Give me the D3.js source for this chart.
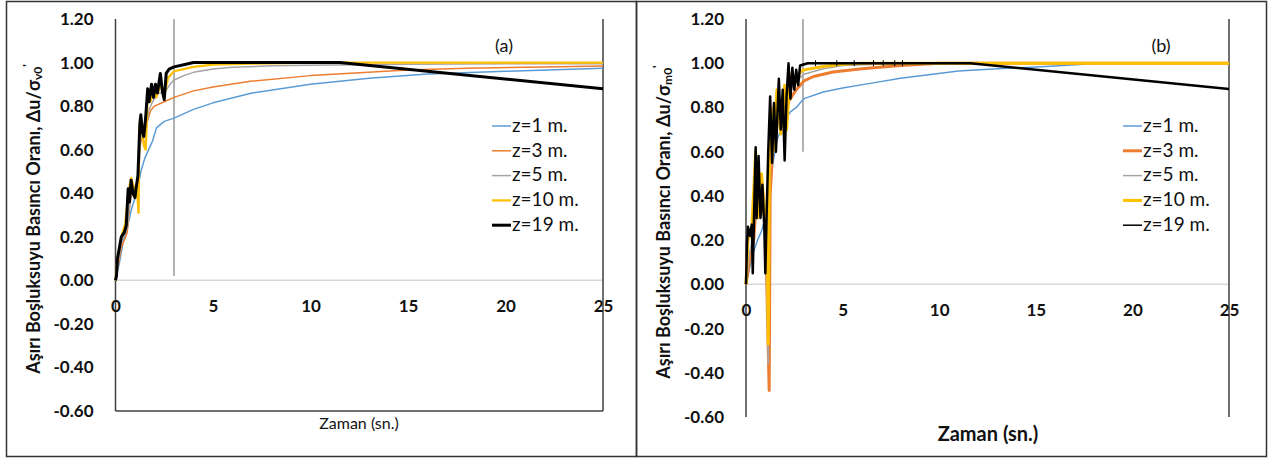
<!DOCTYPE html>
<html>
<head>
<meta charset="utf-8">
<script src="https://cdn.jsdelivr.net/npm/d3@7"></script>
<style>
  body { margin: 0; background: #fff; }
  svg text { font-family: Lato, "Open Sans", sans-serif; fill: #111; }
</style>
</head>
<body>
<svg id="chart" width="1269" height="459"></svg>
<script>
// depths shown in both panels
const depths = ["z=1 m.", "z=3 m.", "z=5 m.", "z=10 m.", "z=19 m."];
const colors = ["#5B9BD5", "#ED7D31", "#A5A5A5", "#FFC000", "#000000"];
const xTicks = [0, 5, 10, 15, 20, 25];
const yTicks = [1.2, 1.0, 0.8, 0.6, 0.4, 0.2, 0.0, -0.2, -0.4, -0.6];

// panel (a) - [time (s), ratio]
const aZ1 = [[0,0],[0.2,0.08],[0.4,0.18],[0.6,0.24],[0.8,0.32],[1.0,0.38],[1.2,0.45],[1.3,0.5],[1.5,0.56],[1.7,0.6],[1.9,0.64],[2.1,0.7],[2.5,0.73],[3,0.745],[4,0.785],[5,0.815],[7,0.86],[10,0.9],[13,0.928],[16,0.948],[20,0.96],[25,0.974]];
const aZ3 = [[0,0],[0.3,0.15],[0.6,0.22],[0.8,0.4],[1.0,0.38],[1.1,0.45],[1.18,0.31],[1.22,0.6],[1.4,0.68],[1.6,0.72],[1.8,0.78],[2.0,0.8],[2.5,0.82],[3,0.84],[4,0.87],[5,0.888],[7,0.915],[10,0.94],[15,0.966],[18,0.974],[22,0.98],[25,0.984]];
const aZ5 = [[0,0],[0.3,0.18],[0.6,0.24],[0.8,0.42],[1.0,0.4],[1.2,0.5],[1.3,0.68],[1.5,0.62],[1.7,0.78],[1.9,0.82],[2.2,0.86],[2.5,0.86],[2.8,0.9],[3,0.92],[3.5,0.94],[4,0.955],[5,0.97],[6,0.978],[8,0.985],[10,0.988],[15,0.992],[20,0.995],[25,0.995]];
const aZ10 = [[0,0],[0.1,0.1],[0.3,0.2],[0.5,0.26],[0.65,0.4],[0.8,0.47],[0.9,0.44],[1.0,0.4],[1.1,0.42],[1.18,0.31],[1.22,0.7],[1.3,0.74],[1.45,0.62],[1.55,0.6],[1.65,0.85],[1.8,0.82],[1.95,0.88],[2.1,0.84],[2.3,0.9],[2.5,0.85],[2.7,0.93],[3.0,0.96],[3.5,0.97],[4,0.98],[5,0.99],[7,0.995],[10,1.0],[25,1.0]];
const aZ19 = [[0,0],[0.05,0.02],[0.1,0.1],[0.2,0.15],[0.3,0.2],[0.45,0.22],[0.55,0.25],[0.65,0.42],[0.72,0.36],[0.8,0.46],[0.9,0.4],[1.0,0.38],[1.05,0.42],[1.15,0.48],[1.25,0.72],[1.3,0.76],[1.38,0.68],[1.45,0.66],[1.55,0.75],[1.65,0.88],[1.72,0.82],[1.85,0.9],[1.95,0.84],[2.05,0.9],[2.15,0.86],[2.3,0.95],[2.4,0.87],[2.5,0.83],[2.6,0.95],[2.75,0.97],[3.0,0.98],[3.5,0.99],[4,1.0],[11.5,1.0],[25,0.88]];

// panel (b)
const bZ1 = [[0,0],[0.2,0.08],[0.4,0.15],[0.6,0.2],[0.8,0.24],[1.0,0.3],[1.2,0.4],[1.4,0.55],[1.6,0.65],[1.8,0.7],[2.0,0.74],[2.3,0.78],[2.6,0.8],[3,0.84],[4,0.87],[5,0.888],[6.5,0.91],[8,0.932],[11,0.965],[13,0.975],[15.5,0.985],[17.5,0.995],[18,1.0],[25,1.0]];
const bZ3 = [[0,0],[0.2,0.12],[0.4,0.2],[0.6,0.45],[0.8,0.35],[1.0,0.3],[1.2,-0.48],[1.25,0.4],[1.4,0.65],[1.6,0.72],[1.8,0.78],[2.0,0.8],[2.3,0.84],[2.6,0.88],[3,0.92],[3.5,0.94],[4.5,0.96],[6,0.975],[8,0.99],[10,1.0],[25,1.0]];
const bZ5 = [[0,0],[0.2,0.15],[0.4,0.22],[0.6,0.5],[0.8,0.4],[1.0,0.3],[1.15,-0.36],[1.2,0.45],[1.4,0.7],[1.6,0.75],[1.8,0.8],[2.0,0.84],[2.3,0.88],[2.6,0.92],[3,0.95],[4,0.975],[5,0.99],[7,0.997],[10,1.0],[25,1.0]];
const bZ10 = [[0,0],[0.1,0.2],[0.3,0.25],[0.5,0.6],[0.6,0.3],[0.8,0.5],[1.0,0.3],[1.1,0.2],[1.15,-0.27],[1.2,0.5],[1.3,0.8],[1.4,0.6],[1.6,0.88],[1.8,0.68],[2.0,0.9],[2.1,0.7],[2.3,0.95],[2.5,0.9],[2.8,0.96],[3.0,0.97],[4,0.985],[5,0.995],[6,1.0],[25,1.0]];
const bZ19 = [[0,0],[0.05,0.18],[0.1,0.26],[0.2,0.22],[0.3,0.27],[0.35,0.05],[0.4,0.25],[0.5,0.62],[0.55,0.3],[0.65,0.58],[0.75,0.3],[0.85,0.45],[0.95,0.25],[1.0,0.05],[1.05,0.25],[1.15,0.6],[1.25,0.85],[1.35,0.55],[1.45,0.82],[1.55,0.6],[1.7,0.93],[1.8,0.7],[1.9,0.88],[2.0,0.56],[2.1,0.85],[2.2,1.0],[2.3,0.84],[2.4,0.98],[2.5,0.88],[2.6,0.97],[2.7,0.9],[2.8,0.99],[3.2,1.0],[11.6,1.0],[25,0.883]];
const bTickTimes = [3.6, 4.7, 5.6, 6.6, 7.1, 7.7, 8.1];

// gray vertical mark near t=3: [time, top, bottom]
const aMark = [3.0, 1.2, 0.02];
const bMark = [2.95, 1.2, 0.6];

const svg = d3.select("#chart");

// outer frames
svg.append("rect").attr("x", 6.5).attr("y", 1.5).attr("width", 630).attr("height", 455)
  .attr("fill", "none").attr("stroke", "#333").attr("stroke-width", 1.5);
svg.append("rect").attr("x", 636.5).attr("y", 1.5).attr("width", 630).attr("height", 455)
  .attr("fill", "none").attr("stroke", "#333").attr("stroke-width", 1.5);

const panels = [
  {
    series: [aZ1, aZ3, aZ5, aZ10, aZ19],
    widths: [1.5, 1.5, 1.5, 2.25, 3],
    legWidths: [1.5, 1.5, 1.5, 2.25, 3],
    left: 115.5, right: 603, top: 19, bottom: 411,
    bottomLine: true, mark: aMark, label: "(a)", labelX: 504,
    sub: "v0", titleX: 35, legX: 492,
    xTitle: { x: 359, y: 429, size: 16, weight: "normal" }
  },
  {
    series: [bZ1, bZ3, bZ5, bZ10, bZ19],
    widths: [1.5, 3, 1.5, 3, 2.5],
    legWidths: [1.5, 3, 1.5, 3, 1.5],
    left: 746, right: 1229, top: 19, bottom: 417,
    bottomLine: false, mark: bMark, label: "(b)", labelX: 1161,
    sub: "m0", titleX: 665, legX: 1123,
    xTitle: { x: 988, y: 441, size: 20, weight: "bold" }
  }
];

panels.forEach((p, pi) => {
  const x = d3.scaleLinear().domain([0, 25]).range([p.left, p.right]);
  const y = d3.scaleLinear().domain([-0.6, 1.2]).range([p.bottom, p.top]);
  const g = svg.append("g");

  // zero line
  g.append("line").attr("x1", x(0)).attr("x2", x(25)).attr("y1", y(0)).attr("y2", y(0))
    .attr("stroke", "#d9d9d9").attr("stroke-width", 1.5);

  // axis frame lines
  g.append("line").attr("x1", x(0)).attr("x2", x(0)).attr("y1", y(1.2)).attr("y2", y(-0.6))
    .attr("stroke", "#404040").attr("stroke-width", 1.5);
  g.append("line").attr("x1", x(25)).attr("x2", x(25)).attr("y1", y(1.2)).attr("y2", y(-0.6))
    .attr("stroke", "#404040").attr("stroke-width", 1.5);
  if (p.bottomLine) {
    g.append("line").attr("x1", x(0)).attr("x2", x(25)).attr("y1", y(-0.6)).attr("y2", y(-0.6))
      .attr("stroke", "#404040").attr("stroke-width", 1.5);
  }

  // y axis labels
  const yAxis = d3.axisLeft(y).tickValues(yTicks).tickSize(0).tickPadding(22)
    .tickFormat(d => d.toFixed(2));
  const ya = g.append("g").attr("transform", `translate(${x(0)},0)`).call(yAxis);
  ya.select(".domain").remove();
  ya.selectAll("text").style("font-size", "17px").style("font-weight", "bold")
    .style("font-family", "Lato, sans-serif").attr("fill", "#111");

  // x axis labels, sitting under the zero line
  const xAxis = d3.axisBottom(x).tickValues(xTicks).tickSize(0).tickPadding(20);
  const xa = g.append("g").attr("transform", `translate(0,${y(0)})`).call(xAxis);
  xa.select(".domain").remove();
  xa.selectAll("text").style("font-size", "17px").style("font-weight", "bold")
    .style("font-family", "Lato, sans-serif").attr("fill", "#111");

  // gray vertical mark
  g.append("line").attr("x1", x(p.mark[0])).attr("x2", x(p.mark[0]))
    .attr("y1", y(p.mark[1])).attr("y2", y(p.mark[2]))
    .attr("stroke", "#999").attr("stroke-width", 1.5);

  const line = d3.line().x(d => x(d[0])).y(d => y(d[1]));
  p.series.forEach((s, i) => {
    g.append("path").datum(s).attr("d", line)
      .attr("fill", "none").attr("stroke", colors[i])
      .attr("stroke-width", p.widths[i]).attr("stroke-linejoin", "round");
  });

  if (pi === 1) {
    g.selectAll(".tk").data(bTickTimes).enter().append("line")
      .attr("x1", d => x(d)).attr("x2", d => x(d))
      .attr("y1", y(1.0) - 3).attr("y2", y(1.0) + 3)
      .attr("stroke", "#000").attr("stroke-width", 1);
  }

  // panel letter
  g.append("text").attr("x", p.labelX).attr("y", 47).attr("text-anchor", "middle")
    .attr("dominant-baseline", "middle").style("font-size", "18px").text(p.label);

  // legend
  depths.forEach((name, i) => {
    const ly = 126 + i * 24.8;
    g.append("line").attr("x1", p.legX).attr("x2", p.legX + 19).attr("y1", ly).attr("y2", ly)
      .attr("stroke", colors[i]).attr("stroke-width", p.legWidths[i]);
    g.append("text").attr("x", p.legX + 20).attr("y", ly + 1).attr("dominant-baseline", "middle")
      .style("font-size", "19px").text(name);
  });

  // y title
  const t = g.append("text")
    .attr("transform", `translate(${p.titleX},${(p.top + p.bottom) / 2 + 4}) rotate(-90)`)
    .attr("text-anchor", "middle").attr("dominant-baseline", "middle")
    .style("font-size", "18px").style("font-weight", "bold");
  t.append("tspan").text("Aşırı Boşluksuyu Basıncı Oranı, Δu/σ");
  t.append("tspan").attr("baseline-shift", "-30%").style("font-size", "12px").text(p.sub);
  t.append("tspan").attr("baseline-shift", "60%").style("font-size", "12px").text("'");

  // x title
  g.append("text").attr("x", p.xTitle.x).attr("y", p.xTitle.y).attr("text-anchor", "middle")
    .style("font-size", p.xTitle.size + "px").style("font-weight", p.xTitle.weight)
    .text("Zaman (sn.)");
});
</script>
</body>
</html>
